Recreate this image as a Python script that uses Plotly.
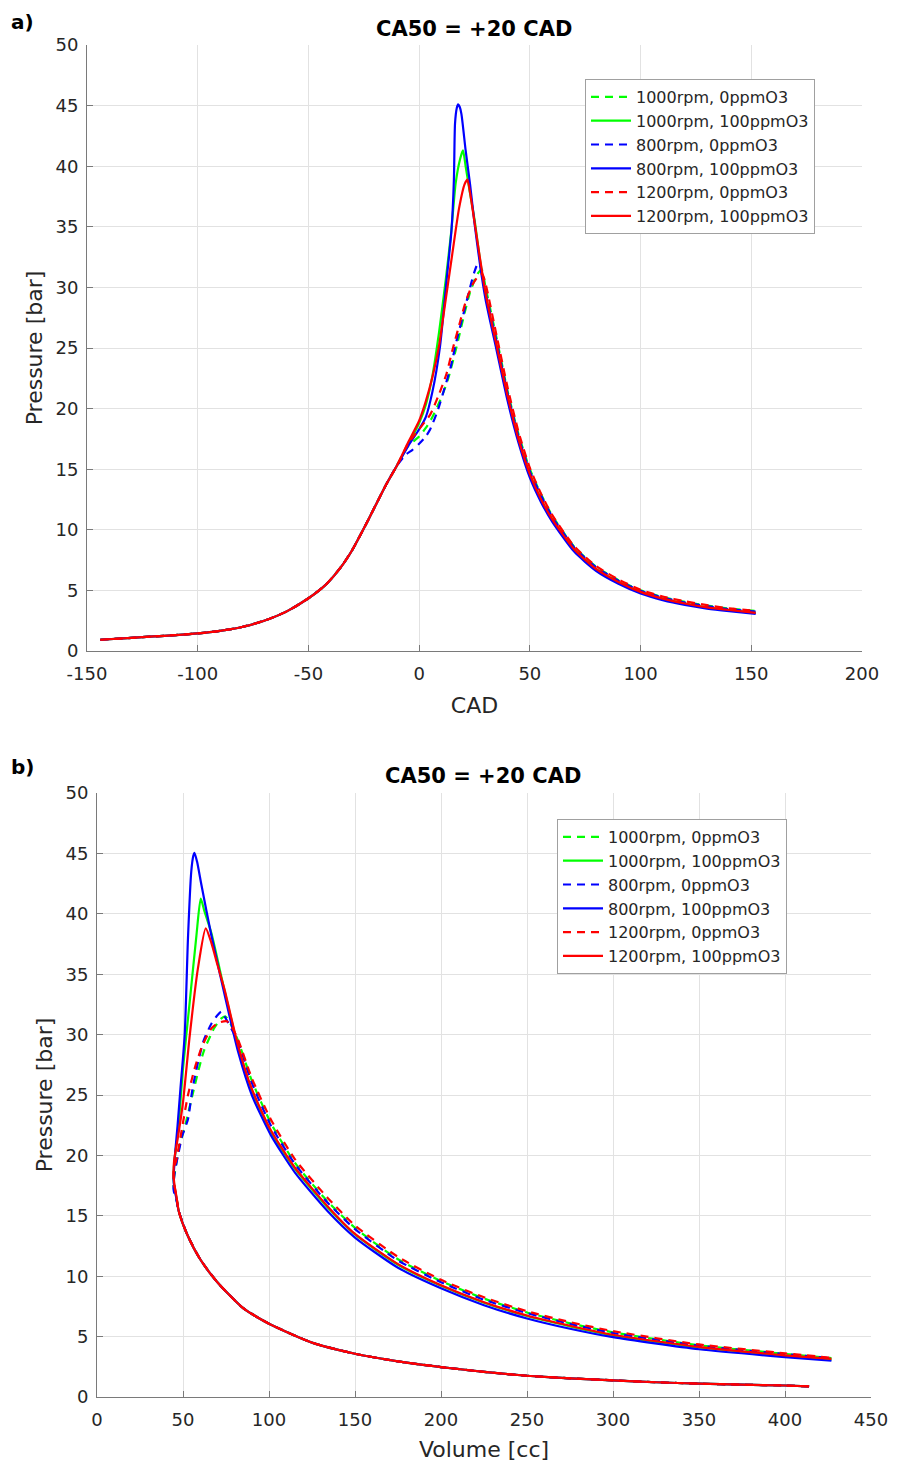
import plotly.graph_objects as go

# ---------------- Panel a) Pressure vs CAD ----------------
# shared compression stroke (all six traces coincide)
CAD_COMP = [-144, -130, -120, -110, -100, -90, -80, -70, -60, -50, -42, -35, -30, -25, -20, -15, -10]
P_COMP_A = [0.93, 1.08, 1.2, 1.31, 1.45, 1.66, 1.98, 2.5, 3.25, 4.35, 5.5, 7.0, 8.4, 10.1, 11.9, 13.7, 15.3]

CAD_TAIL = [55, 60, 70, 80, 90, 100, 110, 120, 130, 140, 152]

CAD_1000_0 = [-5, 0, 3, 6, 10, 13, 16.9, 20, 23, 26, 28.2, 30, 35, 40, 45, 50]
P_1000_0 = [16.9, 17.7, 18.4, 19.3, 20.9, 22.4, 25.1, 27.5, 29.6, 31.0, 31.5, 30.0, 25.8, 21.4, 17.8, 15.0,
            12.95, 11.2, 8.6, 6.95, 5.85, 5.0, 4.45, 4.05, 3.75, 3.5, 3.3]

CAD_1000_100 = [-5, 0, 3, 6, 9, 12, 14.5, 16.5, 18.5, 19.8, 21, 22.5, 25, 27.4, 30, 35, 40, 45, 50]
P_1000_100 = [17.0, 18.8, 20.3, 22.7, 26.3, 30.6, 34.6, 38.6, 40.6, 41.3, 40.0, 38.3, 35.6, 32.4, 29.4, 25.1, 20.9, 17.4, 14.6,
              12.55, 10.9, 8.4, 6.75, 5.7, 4.88, 4.32, 3.92, 3.6, 3.38, 3.15]

CAD_800_0 = [-6, -3, 0, 3, 5, 8.5, 11.5, 14.2, 16.9, 20, 23, 25, 26.6, 27.5, 30, 35, 40, 45, 50]
P_800_0 = [16.2, 16.6, 17.1, 17.7, 18.3, 19.9, 21.7, 23.4, 25.6, 27.8, 30.0, 31.3, 32.0, 31.8, 29.6, 25.5, 21.2, 17.6, 14.8,
           12.85, 11.1, 8.55, 6.9, 5.8, 4.97, 4.4, 4.0, 3.7, 3.45, 3.25]

CAD_800_100 = [-5, 0, 3, 6, 9.4, 12.4, 14.6, 15.7, 16.2, 17.0, 17.6, 18.3, 19.1, 21, 23, 25, 27.4, 30, 35, 40, 45, 50]
P_800_100 = [16.9, 18.3, 19.3, 21.4, 25.1, 30.6, 34.7, 38.9, 43.5, 44.8, 45.1, 44.9, 44.3, 41.3, 38.5, 35.3, 32.0, 29.0, 24.8, 20.6, 17.1, 14.3,
             12.3, 10.7, 8.2, 6.6, 5.55, 4.75, 4.2, 3.8, 3.5, 3.28, 3.05]

CAD_1200_0 = [-5, 0, 5, 9, 12.4, 15, 18.4, 21, 24, 27, 28.5, 30, 35, 40, 45, 50]
P_1200_0 = [17.1, 18.3, 19.5, 21.2, 22.9, 24.8, 27.1, 28.8, 30.2, 31.0, 31.1, 30.3, 26.0, 21.7, 18.0, 15.1,
            13.0, 11.25, 8.65, 7.0, 5.9, 5.05, 4.5, 4.1, 3.78, 3.52, 3.32]

CAD_1200_100 = [-5, 0, 3, 6, 9, 12, 15, 18, 20.5, 21.8, 23, 25, 27.4, 30, 35, 40, 45, 50]
P_1200_100 = [17.2, 19.0, 20.6, 22.6, 25.2, 29.0, 32.8, 36.5, 38.5, 38.9, 37.8, 35.4, 32.5, 29.5, 25.2, 21.0, 17.4, 14.6,
              12.55, 10.9, 8.4, 6.75, 5.7, 4.88, 4.32, 3.92, 3.6, 3.38, 3.15]

# ---------------- Panel b) Pressure vs Volume ----------------
V_COMP = [414, 400, 375, 350, 325, 300, 275, 250, 225, 200, 175, 150, 125, 100, 85, 70, 60, 52, 47.5]
P_COMP_B = [0.88, 0.95, 1.02, 1.1, 1.22, 1.38, 1.55, 1.76, 2.08, 2.48, 2.95, 3.58, 4.5, 6.07, 7.35, 9.5, 11.4, 13.6, 15.4]

V_EXP = [82, 90, 101, 115, 134, 150, 175, 200, 225, 250, 275, 300, 350, 400, 427]

V_1000_0 = [46.2, 45.0, 44.5, 44.8, 45.5, 47.5, 52.0, 56.0, 62.0, 68.0, 72.0, 74.7, 78.0]
PV_1000_0 = [16.4, 17.0, 17.6, 18.2, 18.8, 20.5, 22.9, 25.3, 28.6, 30.5, 31.3, 31.5, 30.8,
             29.5, 26.2, 22.7, 19.4, 16.2, 14.0, 11.4, 9.6, 8.15, 7.0, 6.1, 5.35, 4.28, 3.57, 3.22]

V_1000_100 = [46.2, 45.0, 44.5, 44.8, 45.6, 47.1, 50.0, 53.9, 57.8, 60.3, 62.5, 66.5, 74.2]
PV_1000_100 = [16.5, 17.4, 18.2, 19.2, 20.3, 21.9, 27.2, 32.7, 38.2, 41.25, 40.2, 38.4, 33.6,
               29.0, 25.4, 22.0, 18.9, 15.7, 13.45, 10.95, 9.2, 7.8, 6.7, 5.85, 5.1, 4.1, 3.42, 3.1]

V_800_0 = [46.2, 45.0, 44.5, 44.6, 45.2, 47.1, 49.5, 52.9, 55.5, 58.7, 62.0, 66.5, 70.0, 72.3, 74.2]
PV_800_0 = [16.3, 16.8, 17.2, 17.8, 18.6, 20.0, 21.6, 23.0, 25.5, 27.7, 29.5, 30.9, 31.6, 31.9, 31.5,
            29.4, 26.0, 22.5, 19.3, 16.1, 13.9, 11.3, 9.5, 8.05, 6.95, 6.05, 5.3, 4.25, 3.55, 3.2]

V_800_100 = [46.2, 45.0, 44.5, 44.8, 45.5, 46.8, 48.5, 51.0, 52.9, 54.8, 56.0, 56.7, 58.2, 60.7, 66.5, 74.2]
PV_800_100 = [16.4, 17.3, 18.0, 18.9, 20.3, 22.4, 25.5, 30.0, 38.0, 43.5, 44.8, 45.05, 44.3, 42.4, 38.2, 33.3,
              28.6, 25.0, 21.7, 18.6, 15.4, 13.2, 10.7, 9.0, 7.6, 6.5, 5.65, 4.95, 3.95, 3.3, 3.0]

V_1200_0 = [46.2, 45.0, 44.5, 44.8, 46.1, 49.0, 52.9, 56.8, 61.0, 66.5, 71.0, 75.5, 78.0]
PV_1200_0 = [16.6, 17.5, 18.3, 19.0, 19.6, 21.9, 25.0, 27.2, 29.0, 30.5, 31.0, 31.1, 30.7,
             29.6, 26.4, 23.0, 19.7, 16.5, 14.2, 11.6, 9.7, 8.25, 7.1, 6.2, 5.45, 4.35, 3.62, 3.25]

V_1200_100 = [46.2, 45.0, 44.5, 44.8, 45.6, 46.7, 50.0, 53.9, 58.7, 63.2, 66.5, 70.0, 74.2]
PV_1200_100 = [16.6, 17.6, 18.5, 19.5, 20.3, 21.2, 24.4, 29.9, 35.5, 38.8, 37.6, 35.8, 33.7,
               29.1, 25.5, 22.1, 19.0, 15.8, 13.5, 11.0, 9.25, 7.85, 6.75, 5.9, 5.15, 4.15, 3.45, 3.15]

# tick labels (plain hyphen minus, as in the reference)
X_TICKS_A = [-150, -100, -50, 0, 50, 100, 150, 200]
X_TICK_TEXT_A = ["-150", "-100", "-50", "0", "50", "100", "150", "200"]

LABELS = ["1000rpm, 0ppmO3", "1000rpm, 100ppmO3", "800rpm, 0ppmO3",
          "800rpm, 100ppmO3", "1200rpm, 0ppmO3", "1200rpm, 100ppmO3"]
COLORS = ["#00ff00", "#00ff00", "#0000ff", "#0000ff", "#ff0000", "#ff0000"]
DASHES = ["8px,6px", "solid", "8px,6px", "solid", "8px,6px", "solid"]

A_SERIES = [(CAD_1000_0, P_1000_0), (CAD_1000_100, P_1000_100), (CAD_800_0, P_800_0),
            (CAD_800_100, P_800_100), (CAD_1200_0, P_1200_0), (CAD_1200_100, P_1200_100)]
B_SERIES = [(V_1000_0, PV_1000_0), (V_1000_100, PV_1000_100), (V_800_0, PV_800_0),
            (V_800_100, PV_800_100), (V_1200_0, PV_1200_0), (V_1200_100, PV_1200_100)]

# page body adds an 8px offset; size the figure so it fits the 901x1464 window
OFF = 8
W, H = 901 - OFF, 1464 - OFF
FONT = "DejaVu Sans"
fig = go.Figure()

for i, (cad, p) in enumerate(A_SERIES):
    x = CAD_COMP + cad + CAD_TAIL
    y = P_COMP_A + p
    fig.add_trace(go.Scatter(x=x, y=y, mode="lines", name=LABELS[i],
                             line=dict(color=COLORS[i], width=2.2, dash=DASHES[i], shape="spline", smoothing=0.6),
                             xaxis="x", yaxis="y", legend="legend"))

for i, (v, p) in enumerate(B_SERIES):
    x = V_COMP + v + V_EXP
    y = P_COMP_B + p
    fig.add_trace(go.Scatter(x=x, y=y, mode="lines", name=LABELS[i],
                             line=dict(color=COLORS[i], width=2.2, dash=DASHES[i], shape="spline", smoothing=0.6),
                             xaxis="x2", yaxis="y2", legend="legend2"))


def px_x(p):
    return (p - OFF) / W


def px_y(p):
    return (H - (p - OFF)) / H


axis_common = dict(showline=True, linecolor="#7a7a7a", linewidth=1, mirror=False,
                   ticks="inside", ticklen=6, tickcolor="#7a7a7a", automargin=False,
                   showgrid=True, gridcolor="#e2e2e2", gridwidth=1, zeroline=False,
                   tickfont=dict(family=FONT, size=18, color="#262626"),
                   title_font=dict(family=FONT, size=22, color="#262626"))

legend_common = dict(xanchor="left", yanchor="top", bgcolor="white", bordercolor="#a0a0a0",
                     borderwidth=1, font=dict(family=FONT, size=16, color="#262626"),
                     itemwidth=40, tracegroupgap=0)

fig.update_layout(
    width=W, height=H,
    paper_bgcolor="white", plot_bgcolor="white",
    margin=dict(l=0, r=0, t=0, b=0, autoexpand=False),
    showlegend=True,
    xaxis=dict(domain=[px_x(87), px_x(862)], range=[-150, 200], tickmode="array",
               tickvals=X_TICKS_A, ticktext=X_TICK_TEXT_A, anchor="y", ticklabelstandoff=6,
               title=dict(text="CAD", standoff=15), **axis_common),
    yaxis=dict(domain=[px_y(651), px_y(45)], range=[0, 50], dtick=5, anchor="x", ticklabelstandoff=4,
               title=dict(text="Pressure [bar]", standoff=6), **axis_common),
    xaxis2=dict(domain=[px_x(97), px_x(871)], range=[0, 450], dtick=50, anchor="y2", ticklabelstandoff=6,
                title=dict(text="Volume [cc]", standoff=13), **axis_common),
    yaxis2=dict(domain=[px_y(1397), px_y(793)], range=[0, 50], dtick=5, anchor="x2", ticklabelstandoff=4,
                title=dict(text="Pressure [bar]", standoff=6), **axis_common),
    legend=dict(x=px_x(585), y=px_y(79), **legend_common),
    legend2=dict(x=px_x(557), y=px_y(819), **legend_common),
    annotations=[
        dict(text="<b>CA50 = +20 CAD</b>", x=px_x(474), y=px_y(29), xref="paper", yref="paper",
             showarrow=False, xanchor="center", yanchor="middle",
             font=dict(family=FONT, size=21, color="black")),
        dict(text="<b>CA50 = +20 CAD</b>", x=px_x(483), y=px_y(776), xref="paper", yref="paper",
             showarrow=False, xanchor="center", yanchor="middle",
             font=dict(family=FONT, size=21, color="black")),
        dict(text="<b>a)</b>", x=px_x(10), y=px_y(9), xref="paper", yref="paper",
             showarrow=False, xanchor="left", yanchor="top", borderpad=0,
             font=dict(family=FONT, size=20, color="black")),
        dict(text="<b>b)</b>", x=px_x(10), y=px_y(754), xref="paper", yref="paper",
             showarrow=False, xanchor="left", yanchor="top", borderpad=0,
             font=dict(family=FONT, size=20, color="black")),
    ],
)

fig.write_html("out.html")
